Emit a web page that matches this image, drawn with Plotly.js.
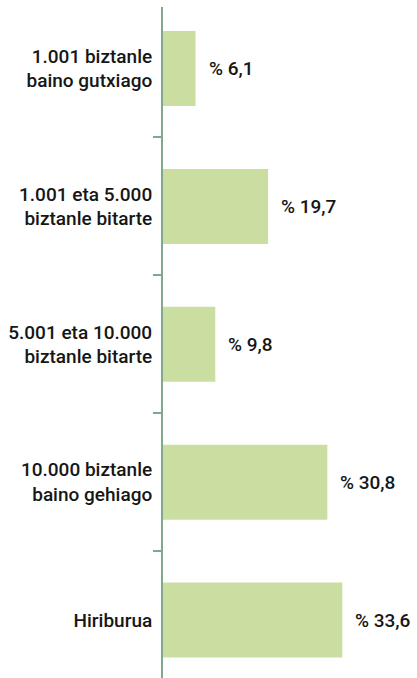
<!DOCTYPE html>
<html>
<head>
<meta charset="utf-8">
<script src="https://cdn.plot.ly/plotly-3.0.1.min.js"></script>
<style>html,body{margin:0;padding:0;background:#fff;}#chart{width:417px;height:678px;}</style>
</head>
<body>
<div id="chart"></div>
<script>
var categories = [
  "1.001 biztanle<br>baino gutxiago",
  "1.001 eta 5.000<br>biztanle bitarte",
  "5.001 eta 10.000<br>biztanle bitarte",
  "10.000 biztanle<br>baino gehiago",
  "Hiriburua"
];
var values = [6.1, 19.7, 9.8, 30.8, 33.6];
var valueLabels = ["% 6,1", "% 19,7", "% 9,8", "% 30,8", "% 33,6"];

var axisColor = "#7ea98a";
var barColor = "#cbdea2";
var textColor = "#161616";
var fontFamily = "Roboto, 'Liberation Sans', sans-serif";

var trace = {
  type: "bar",
  orientation: "h",
  y: categories,
  x: values,
  marker: {color: barColor, line: {width: 0}},
  hoverinfo: "none"
};

var annotations = categories.map(function (c, i) {
  return {
    x: values[i], y: c, xref: "x", yref: "y",
    text: valueLabels[i],
    showarrow: false, xanchor: "left", yanchor: "middle",
    xshift: 11,
    font: {family: fontFamily, size: 19, weight: 500, color: textColor}
  };
});

var layout = {
  width: 417, height: 678,
  margin: {l: 163, r: 0, t: 7, b: 0, pad: 0},
  paper_bgcolor: "#fff", plot_bgcolor: "#fff",
  showlegend: false,
  bargap: 0.456,
  xaxis: {
    range: [0, 47.6],
    visible: false, showgrid: false, zeroline: false, fixedrange: true
  },
  yaxis: {
    type: "category",
    range: [4.42, -0.446],
    showline: true, linecolor: axisColor, linewidth: 2,
    ticks: "outside", tickson: "boundaries", ticklen: 8, tickwidth: 2, tickcolor: axisColor,
    ticklabelstandoff: 5,
    showgrid: false, zeroline: false,
    tickfont: {family: fontFamily, size: 19, weight: 500, color: textColor},
    fixedrange: true
  },
  shapes: [{
    type: "line", xref: "x", yref: "paper",
    xsizemode: "pixel", xanchor: 0, x0: -8, x1: 0,
    y0: 1, y1: 1,
    line: {color: axisColor, width: 2}
  }],
  annotations: annotations
};

Plotly.newPlot("chart", [trace], layout, {displayModeBar: false, staticPlot: true});
</script>
</body>
</html>
